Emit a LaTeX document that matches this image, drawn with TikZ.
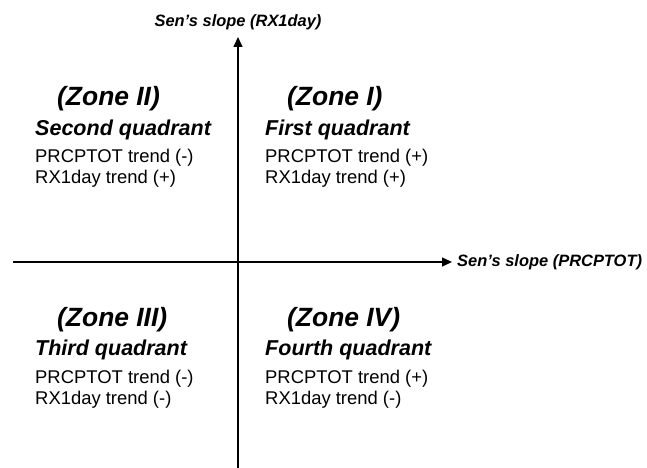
\documentclass[tikz,border=0pt]{standalone}
\usepackage{fontspec}
\setmainfont{Liberation Sans}
\usetikzlibrary{arrows.meta,positioning}

\begin{document}
\begin{tikzpicture}[
    x=1bp, y=-1bp,
    axis/.style={draw, line width=1.3bp, -{Triangle[length=10bp,width=9bp]}},
    axislabel/.style={inner sep=0pt, font=\fontsize{16.5}{19}\selectfont\bfseries\itshape},
    zonetitle/.style={anchor=base west, inner sep=0pt, font=\fontsize{26.5}{30}\selectfont\bfseries\itshape},
    quadname/.style={anchor=base west, inner sep=0pt, font=\fontsize{21.6}{24}\selectfont\bfseries\itshape},
    trendtext/.style={anchor=base west, inner sep=0pt, font=\fontsize{18.5}{22}\selectfont}
]
    \useasboundingbox (0,0) rectangle (647,468);

    % axes
    \coordinate (xstart) at (13,262);
    \coordinate (xend) at (452,262);
    \coordinate (ystart) at (238,468);
    \coordinate (yend) at (238,37);
    \draw[axis] (xstart) -- (xend);
    \draw[axis] (ystart) -- (yend);
    \node[axislabel, anchor=west, right=5bp of xend] (xlabel) {Sen's slope (PRCPTOT)};
    \node[axislabel, anchor=base] (ylabel) at (238,27) {Sen's slope (RX1day)};

    % zone II
    \node[zonetitle] (z2) at (57,106) {(Zone II)};
    \node[quadname] (q2) at (35,136) {Second quadrant};
    \node[trendtext] (p2) at (35,163) {PRCPTOT trend (-)};
    \node[trendtext] (r2) at (35,184) {RX1day trend (+)};

    % zone I
    \node[zonetitle] (z1) at (287,106) {(Zone I)};
    \node[quadname] (q1) at (265,136) {First quadrant};
    \node[trendtext] (p1) at (265,163) {PRCPTOT trend (+)};
    \node[trendtext] (r1) at (265,184) {RX1day trend (+)};

    % zone III
    \node[zonetitle] (z3) at (57,326) {(Zone III)};
    \node[quadname] (q3) at (35,355) {Third quadrant};
    \node[trendtext] (p3) at (35,383) {PRCPTOT trend (-)};
    \node[trendtext] (r3) at (35,404) {RX1day trend (-)};

    % zone IV
    \node[zonetitle] (z4) at (287,326) {(Zone IV)};
    \node[quadname] (q4) at (265,355) {Fourth quadrant};
    \node[trendtext] (p4) at (265,383) {PRCPTOT trend (+)};
    \node[trendtext] (r4) at (265,404) {RX1day trend (-)};
\end{tikzpicture}
\end{document}
